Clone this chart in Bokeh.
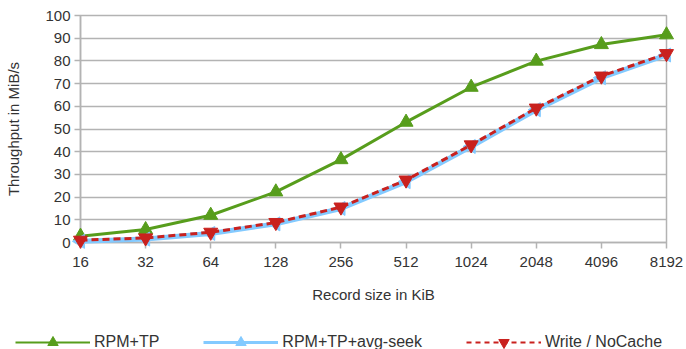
import numpy as np
from bokeh.plotting import figure
from bokeh.layouts import column
from bokeh.models import FixedTicker, Range1d, Legend, LegendItem
from bokeh.embed import file_html
from bokeh.resources import INLINE

record_sizes = ["16", "32", "64", "128", "256", "512", "1024", "2048", "4096", "8192"]
rpm_tp = [2.8, 5.7, 12.0, 22.3, 36.5, 53.0, 68.4, 79.9, 87.2, 91.5]
rpm_tp_avg_seek = [0.5, 1.5, 4.0, 8.2, 15.0, 26.8, 42.3, 58.5, 72.6, 82.6]
write_nocache = [1.0, 2.0, 4.5, 8.8, 15.6, 27.5, 43.0, 59.2, 73.3, 83.2]
series_names = ["RPM+TP", "RPM+TP+avg-seek", "Write / NoCache"]
y_ticks = list(range(0, 101, 10))

FONT = "Liberation Sans"
TXT = "#333333"
GRID = "#b3b3b3"
GREEN = "#579d1c"
BLUE = "#83caff"
RED = "#c9211e"

x = list(range(len(record_sizes)))

p = figure(width=686, height=326, output_backend="svg", toolbar_location=None,
           x_range=Range1d(0, len(record_sizes) - 1), y_range=Range1d(0, 100),
           min_border_left=80, min_border_right=20, min_border_top=15, min_border_bottom=84)

p.outline_line_color = GRID
p.outline_line_width = 1.5
p.xgrid.grid_line_color = None
p.ygrid.grid_line_color = GRID
p.ygrid.grid_line_width = 1.5

p.yaxis.ticker = FixedTicker(ticks=y_ticks)
p.xaxis.ticker = FixedTicker(ticks=x)
p.xaxis.major_label_overrides = {i: s for i, s in enumerate(record_sizes)}

for ax in (p.xaxis[0], p.yaxis[0]):
    ax.axis_line_color = GRID
    ax.axis_line_width = 1.5
    ax.major_tick_line_color = GRID
    ax.major_tick_line_width = 1.5
    ax.major_tick_in = 0
    ax.major_tick_out = 6
    ax.minor_tick_line_color = None
    ax.major_label_text_font = FONT
    ax.major_label_text_font_size = "15px"
    ax.major_label_text_color = TXT
    ax.axis_label_text_font = FONT
    ax.axis_label_text_font_size = "15px"
    ax.axis_label_text_font_style = "normal"
    ax.axis_label_text_color = TXT

p.xaxis.axis_label = "Record size in KiB"
p.yaxis.axis_label = "Throughput in MiB/s"
p.xaxis.major_label_standoff = 8
p.xaxis.axis_label_standoff = 16
p.yaxis.major_label_standoff = 4
p.yaxis.axis_label_standoff = 20

p.line(x, rpm_tp, line_color=GREEN, line_width=3, level="overlay")
p.scatter(x, rpm_tp, marker="triangle", size=14, fill_color=GREEN, line_color=GREEN, level="overlay")
p.line(x, rpm_tp_avg_seek, line_color=BLUE, line_width=5, level="overlay")
p.scatter(x, rpm_tp_avg_seek, marker="triangle", angle=np.pi / 2, size=14,
          fill_color=BLUE, line_color=BLUE, level="overlay")
p.line(x, write_nocache, line_color=RED, line_width=3, line_dash="7 4", level="overlay")
p.scatter(x, write_nocache, marker="inverted_triangle", size=14, fill_color=RED, line_color=RED, level="overlay")

# legend strip below the chart (its proxy glyphs lie outside its visible ranges)
lg = figure(width=686, height=23, output_backend="svg", toolbar_location=None,
            x_range=Range1d(1000, 1686), y_range=Range1d(1000, 1023),
            x_axis_location=None, y_axis_location=None,
            min_border_left=0, min_border_right=0, min_border_top=0, min_border_bottom=0)
lg.outline_line_color = None
lg.grid.visible = False
aligned_off = False
if "frame_align" in lg.properties():
    lg.frame_align = False
    p.frame_align = False
    aligned_off = True

k1 = lg.line(x, rpm_tp, line_color=GREEN, line_width=2)
s1 = lg.scatter(x, rpm_tp, marker="triangle", size=12, fill_color=GREEN, line_color=GREEN)
k2 = lg.line(x, rpm_tp_avg_seek, line_color=BLUE, line_width=3)
s2 = lg.scatter(x, rpm_tp_avg_seek, marker="triangle", angle=np.pi / 2, size=12, fill_color=BLUE, line_color=BLUE)
k3 = lg.line(x, write_nocache, line_color=RED, line_width=2, line_dash="5 4")
s3 = lg.scatter(x, write_nocache, marker="inverted_triangle", size=12, fill_color=RED, line_color=RED)

legend = Legend(items=[LegendItem(label=series_names[0], renderers=[k1, s1], index=0),
                       LegendItem(label=series_names[1], renderers=[k2, s2], index=0),
                       LegendItem(label=series_names[2], renderers=[k3, s3], index=0)],
                orientation="horizontal", location=(15 if aligned_off else -65, -6),
                glyph_width=75, glyph_height=26, label_standoff=4, spacing=44,
                padding=0, margin=0, border_line_color=None, background_fill_alpha=0,
                label_text_font=FONT, label_text_font_size="16px", label_text_color=TXT)
lg.add_layout(legend, "center")

layout = column(p, lg, spacing=0)
open("out.html", "w").write(file_html(layout, INLINE))
